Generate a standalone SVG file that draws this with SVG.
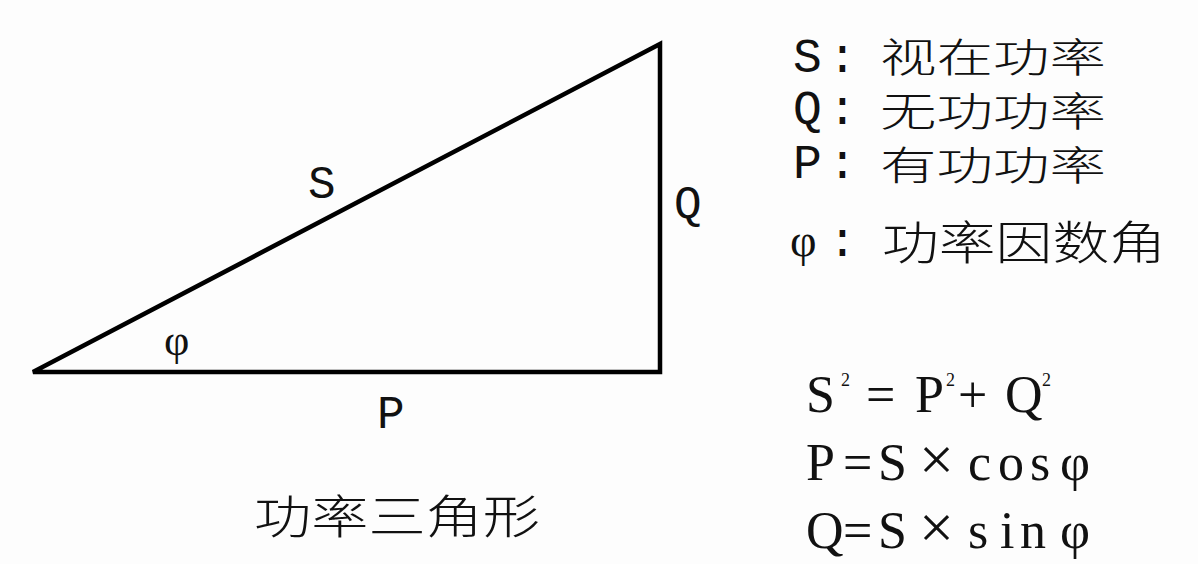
<svg xmlns="http://www.w3.org/2000/svg" width="1198" height="564" viewBox="0 0 1198 564">
<style>
.lat{font-family:"Liberation Mono","DejaVu Sans Mono",monospace;fill:#111}
.ser{font-family:"Liberation Serif","DejaVu Serif",serif;fill:#111;font-size:52px}
.cjk{font-family:"Noto Sans CJK SC","Noto Sans CJK JP",sans-serif;fill:#111;font-weight:300}
.phi{font-family:"Liberation Serif","DejaVu Serif",serif;fill:#111}
.sup{font-family:"Liberation Serif",serif;fill:#111;font-size:18px}
.x{font-size:62px}
</style>
<rect width="1198" height="564" fill="#fdfdfd"/>
<g id="connectors">
<polygon points="33,372 660,44 660,372" fill="none" stroke="#000" stroke-width="4.5" stroke-linejoin="miter"/>
</g>
<g id="labels">
<text class="lat" x="308" y="198" font-size="46">S</text>
<text class="lat" x="674" y="218" font-size="46">Q</text>
<text class="phi" x="164" y="355" font-size="44">φ</text>
<text class="lat" x="377" y="428" font-size="46">P</text>
<text class="cjk" x="254" y="533" font-size="46" textLength="286" lengthAdjust="spacingAndGlyphs">功率三角形</text>
</g>
<g id="legend">
<text class="lat" x="793" y="72" font-size="48">S</text><text class="lat" x="828" y="72" font-size="48">:</text>
<text class="cjk" x="880" y="72" font-size="40" textLength="226" lengthAdjust="spacingAndGlyphs">视在功率</text>
<text class="lat" x="793" y="124" font-size="48">Q</text><text class="lat" x="828" y="124" font-size="48">:</text>
<text class="cjk" x="880" y="126" font-size="40" textLength="226" lengthAdjust="spacingAndGlyphs">无功功率</text>
<text class="lat" x="793" y="178" font-size="48">P</text><text class="lat" x="828" y="178" font-size="48">:</text>
<text class="cjk" x="880" y="180" font-size="40" textLength="226" lengthAdjust="spacingAndGlyphs">有功功率</text>
<text class="phi" x="790" y="256" font-size="46">φ</text><text class="lat" x="828" y="256" font-size="48">:</text>
<text class="cjk" x="882" y="259" font-size="46" textLength="284" lengthAdjust="spacingAndGlyphs">功率因数角</text>
</g>
<g id="formulas">
<text class="ser" y="412"><tspan x="806">S</tspan><tspan x="866">=</tspan><tspan x="915">P</tspan><tspan x="958">+</tspan><tspan x="1005">Q</tspan></text>
<text class="sup" y="386"><tspan x="841">2</tspan><tspan x="946">2</tspan><tspan x="1042">2</tspan></text>
<text class="ser" y="480"><tspan x="806">P</tspan><tspan x="843">=</tspan><tspan x="878">S</tspan><tspan x="919" class="x">×</tspan><tspan x="968">c</tspan><tspan x="998">o</tspan><tspan x="1030">s</tspan><tspan x="1060">φ</tspan></text>
<text class="ser" y="548"><tspan x="806">Q</tspan><tspan x="843">=</tspan><tspan x="878">S</tspan><tspan x="919" class="x">×</tspan><tspan x="968">s</tspan><tspan x="1000">i</tspan><tspan x="1020">n</tspan><tspan x="1060">φ</tspan></text>
</g>
</svg>
